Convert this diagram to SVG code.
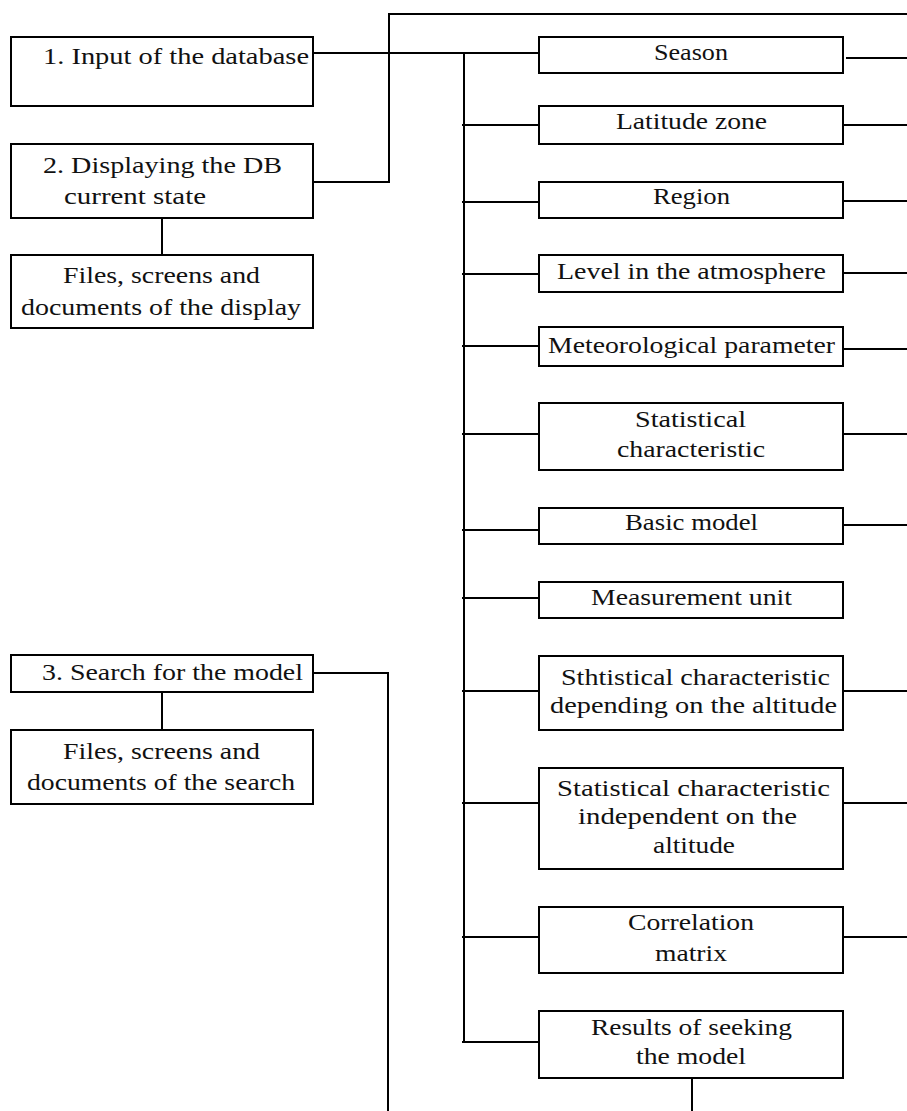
<svg xmlns="http://www.w3.org/2000/svg" width="907" height="1111" viewBox="0 0 907 1111">
<style>
.box{fill:#fff;stroke:#000;stroke-width:2}
.ln{fill:none;stroke:#000;stroke-width:2}
</style>
<rect width="907" height="1111" fill="#fff"/>
<g id="connectors">
<polyline class="ln" points="313,182 389,182 389,14 907,14"/>
<line class="ln" x1="313" y1="53" x2="539" y2="53"/>
<line class="ln" x1="464" y1="53" x2="464" y2="1042"/>
<line class="ln" x1="162" y1="218" x2="162" y2="255"/>
<line class="ln" x1="162" y1="692" x2="162" y2="730"/>
<polyline class="ln" points="313,673 388,673 388,1111"/>
<line class="ln" x1="692" y1="1078" x2="692" y2="1111"/>
<line class="ln" x1="462" y1="125" x2="539" y2="125"/>
<line class="ln" x1="462" y1="202" x2="539" y2="202"/>
<line class="ln" x1="462" y1="274" x2="539" y2="274"/>
<line class="ln" x1="462" y1="346" x2="539" y2="346"/>
<line class="ln" x1="462" y1="434" x2="539" y2="434"/>
<line class="ln" x1="462" y1="530" x2="539" y2="530"/>
<line class="ln" x1="462" y1="598" x2="539" y2="598"/>
<line class="ln" x1="462" y1="691" x2="539" y2="691"/>
<line class="ln" x1="462" y1="803" x2="539" y2="803"/>
<line class="ln" x1="462" y1="937" x2="539" y2="937"/>
<line class="ln" x1="462" y1="1042" x2="539" y2="1042"/>
<line class="ln" x1="846" y1="58" x2="907" y2="58"/>
<line class="ln" x1="841" y1="125" x2="907" y2="125"/>
<line class="ln" x1="843" y1="201" x2="907" y2="201"/>
<line class="ln" x1="842" y1="273" x2="907" y2="273"/>
<line class="ln" x1="842" y1="349" x2="907" y2="349"/>
<line class="ln" x1="843" y1="434" x2="907" y2="434"/>
<line class="ln" x1="842" y1="525" x2="907" y2="525"/>
<line class="ln" x1="843" y1="691" x2="907" y2="691"/>
<line class="ln" x1="843" y1="803" x2="907" y2="803"/>
<line class="ln" x1="843" y1="937" x2="907" y2="937"/>
</g>
<g font-family="'Liberation Serif', 'Times New Roman', 'DejaVu Serif', serif" font-size="24" fill="#111" lengthAdjust="spacingAndGlyphs">
<g id="n1"><rect class="box" x="11" y="37" width="302" height="69"/><text x="43" y="64" textLength="266" lengthAdjust="spacingAndGlyphs">1. Input of the database</text></g>
<g id="n2"><rect class="box" x="11" y="144" width="302" height="74"/><text x="43" y="173" textLength="239" lengthAdjust="spacingAndGlyphs">2. Displaying the DB</text><text x="64" y="204" textLength="142" lengthAdjust="spacingAndGlyphs">current state</text></g>
<g id="n2files"><rect class="box" x="11" y="255" width="302" height="73"/><text x="63" y="283" textLength="197" lengthAdjust="spacingAndGlyphs">Files, screens and</text><text x="21" y="315" textLength="280" lengthAdjust="spacingAndGlyphs">documents of the display</text></g>
<g id="n3"><rect class="box" x="11" y="655" width="302" height="37"/><text x="42" y="680" textLength="261" lengthAdjust="spacingAndGlyphs">3. Search for the model</text></g>
<g id="n3files"><rect class="box" x="11" y="730" width="302" height="74"/><text x="63" y="759" textLength="197" lengthAdjust="spacingAndGlyphs">Files, screens and</text><text x="27" y="790" textLength="268" lengthAdjust="spacingAndGlyphs">documents of the search</text></g>
<g id="season"><rect class="box" x="539" y="37" width="304" height="36"/><text x="654" y="60" textLength="74" lengthAdjust="spacingAndGlyphs">Season</text></g>
<g id="latitude"><rect class="box" x="539" y="106" width="304" height="38"/><text x="616" y="129" textLength="151" lengthAdjust="spacingAndGlyphs">Latitude zone</text></g>
<g id="region"><rect class="box" x="539" y="182" width="304" height="36"/><text x="653" y="204" textLength="77" lengthAdjust="spacingAndGlyphs">Region</text></g>
<g id="level"><rect class="box" x="539" y="255" width="304" height="37"/><text x="557" y="279" textLength="269" lengthAdjust="spacingAndGlyphs">Level in the atmosphere</text></g>
<g id="meteo"><rect class="box" x="539" y="327" width="304" height="39"/><text x="548" y="353" textLength="287" lengthAdjust="spacingAndGlyphs">Meteorological parameter</text></g>
<g id="statchar"><rect class="box" x="539" y="403" width="304" height="67"/><text x="635" y="427" textLength="111" lengthAdjust="spacingAndGlyphs">Statistical</text><text x="617" y="457" textLength="148" lengthAdjust="spacingAndGlyphs">characteristic</text></g>
<g id="basic"><rect class="box" x="539" y="508" width="304" height="36"/><text x="625" y="530" textLength="133" lengthAdjust="spacingAndGlyphs">Basic model</text></g>
<g id="unit"><rect class="box" x="539" y="582" width="304" height="36"/><text x="591" y="605" textLength="201" lengthAdjust="spacingAndGlyphs">Measurement unit</text></g>
<g id="statdep"><rect class="box" x="539" y="656" width="304" height="74"/><text x="561" y="685" textLength="269" lengthAdjust="spacingAndGlyphs">Sthtistical characteristic</text><text x="550" y="713" textLength="287" lengthAdjust="spacingAndGlyphs">depending on the altitude</text></g>
<g id="statind"><rect class="box" x="539" y="768" width="304" height="101"/><text x="557" y="796" textLength="273" lengthAdjust="spacingAndGlyphs">Statistical characteristic</text><text x="578" y="824" textLength="219" lengthAdjust="spacingAndGlyphs">independent on the</text><text x="653" y="853" textLength="82" lengthAdjust="spacingAndGlyphs">altitude</text></g>
<g id="corr"><rect class="box" x="539" y="907" width="304" height="66"/><text x="628" y="930" textLength="126" lengthAdjust="spacingAndGlyphs">Correlation</text><text x="655" y="961" textLength="72" lengthAdjust="spacingAndGlyphs">matrix</text></g>
<g id="results"><rect class="box" x="539" y="1011" width="304" height="67"/><text x="591" y="1035" textLength="201" lengthAdjust="spacingAndGlyphs">Results of seeking</text><text x="636" y="1064" textLength="110" lengthAdjust="spacingAndGlyphs">the model</text></g>
</g>
</svg>
